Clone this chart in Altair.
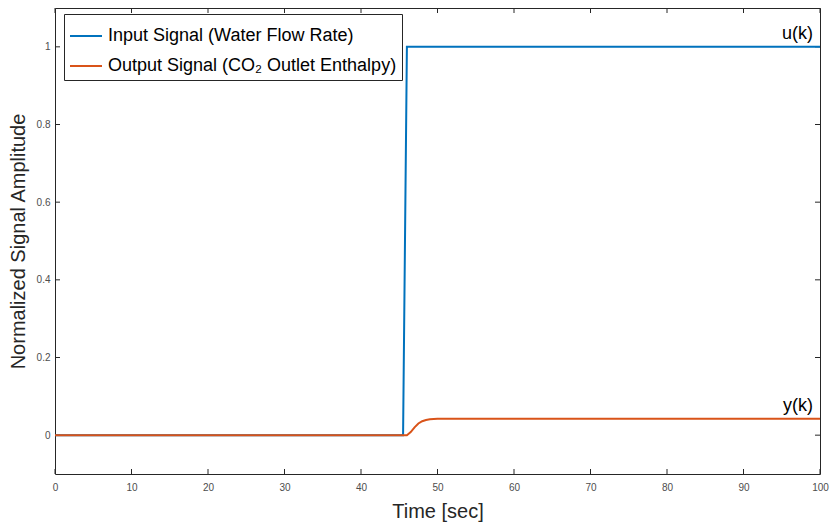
import altair as alt
import pandas as pd

# Data
t_input = [0, 45.5, 46, 100]
u_input = [0, 0, 1, 1]
t_output = [0, 46, 46.5, 47, 47.5, 48, 48.5, 49, 50, 100]
y_output = [0, 0, 0.008, 0.02, 0.03, 0.036, 0.039, 0.041, 0.042, 0.042]
series_names = ["Input Signal (Water Flow Rate)", "Output Signal (CO\u2082 Outlet Enthalpy)"]
series_colors = ["#0072BD", "#D95319"]
x_ticks = [0, 10, 20, 30, 40, 50, 60, 70, 80, 90, 100]
y_ticks = [0, 0.2, 0.4, 0.6, 0.8, 1]
ann_x = [100, 100]
ann_y = [1, 0.042]
ann_text = ["u(k)", "y(k)"]

FONT = "Liberation Sans"
W, H = 765, 466

df = pd.concat([
    pd.DataFrame({"t": t_input, "v": u_input, "s": series_names[0]}),
    pd.DataFrame({"t": t_output, "v": y_output, "s": series_names[1]}),
])

xs = alt.Scale(domain=[0, 100], nice=False)
ys = alt.Scale(domain=[-0.1, 1.1], nice=False)

lines = alt.Chart(df).mark_line(strokeWidth=2, clip=True).encode(
    x=alt.X("t:Q", scale=xs, title="Time [sec]",
            axis=alt.Axis(values=x_ticks, ticks=False, domain=False, grid=False,
                          format="d", labelFlush=False,
                          labelFontSize=10, labelColor="#4d4d4d", labelPadding=8,
                          labelFont=FONT, titleFont=FONT, titleFontSize=20,
                          titleFontWeight="normal", titleColor="#262626", titlePadding=9)),
    y=alt.Y("v:Q", scale=ys, title="Normalized Signal Amplitude",
            axis=alt.Axis(values=y_ticks, ticks=False, domain=False, grid=False,
                          format="~r", labelFlush=False,
                          labelFontSize=10, labelColor="#4d4d4d", labelPadding=5,
                          labelFont=FONT, titleFont=FONT, titleFontSize=20,
                          titleFontWeight="normal", titleColor="#262626", titlePadding=8)),
    color=alt.Color("s:N", scale=alt.Scale(domain=series_names, range=series_colors),
                    sort=series_names,
                    legend=alt.Legend(title=None, orient="none", legendX=9, legendY=6,
                                      symbolType="stroke", symbolSize=1024,
                                      symbolStrokeWidth=2, labelFontSize=18,
                                      labelFont=FONT, labelColor="#000000",
                                      labelOffset=5, rowPadding=4, padding=5,
                                      strokeColor="#262626", fillColor="#ffffff",
                                      labelLimit=500)),
)

xt = pd.DataFrame({"x": x_ticks})
yt = pd.DataFrame({"y": y_ticks})
tick_color = "#262626"
xb = alt.Chart(xt).mark_rule(color=tick_color, strokeWidth=1).encode(
    x=alt.X("x:Q", scale=xs), y=alt.value(H), y2=alt.value(H - 5))
xtop = alt.Chart(xt).mark_rule(color=tick_color, strokeWidth=1).encode(
    x=alt.X("x:Q", scale=xs), y=alt.value(0), y2=alt.value(5))
yl = alt.Chart(yt).mark_rule(color=tick_color, strokeWidth=1).encode(
    y=alt.Y("y:Q", scale=ys), x=alt.value(0), x2=alt.value(5))
yr = alt.Chart(yt).mark_rule(color=tick_color, strokeWidth=1).encode(
    y=alt.Y("y:Q", scale=ys), x=alt.value(W), x2=alt.value(W - 5))

ann = alt.Chart(pd.DataFrame({"x": ann_x, "y": ann_y, "txt": ann_text})).mark_text(
    align="right", baseline="bottom", dx=-7, dy=-4, fontSize=18, font=FONT, color="#000000"
).encode(x=alt.X("x:Q", scale=xs), y=alt.Y("y:Q", scale=ys), text="txt:N")

chart = alt.layer(xb, xtop, yl, yr, lines, ann).properties(
    width=W, height=H,
    autosize=alt.AutoSizeParams(type="none"),
    padding={"left": 55, "top": 8, "right": 12, "bottom": 51},
    background="#ffffff",
).configure_view(stroke="#262626", strokeWidth=1)

chart.save("out.html", embed_options={"renderer": "svg", "actions": False})
